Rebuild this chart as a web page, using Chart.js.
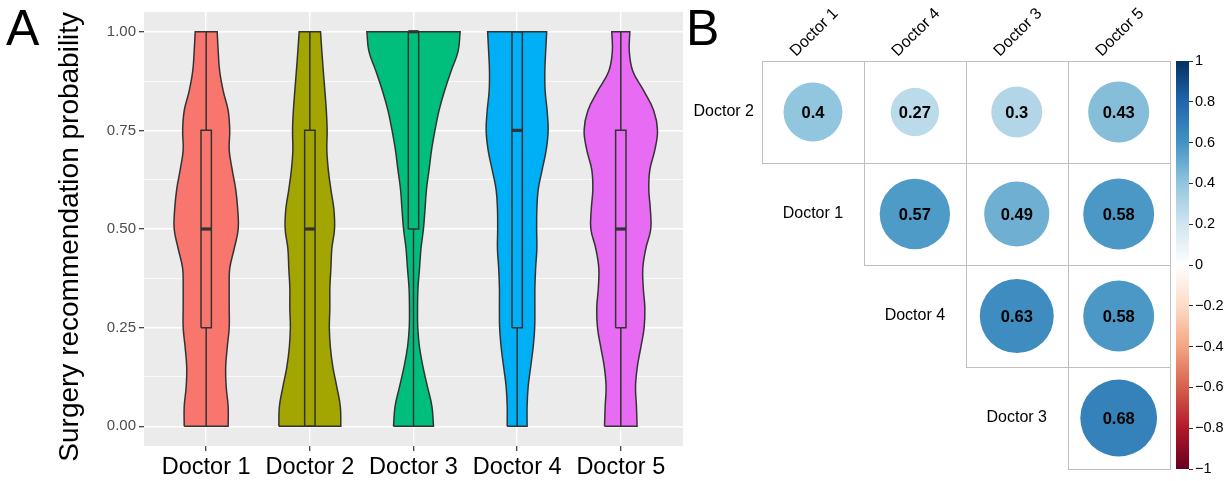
<!DOCTYPE html>
<html>
<head>
<meta charset="utf-8">
<script src="https://cdn.jsdelivr.net/npm/chart.js@4.4.1/dist/chart.umd.min.js"></script>
<style>
  html, body { margin: 0; padding: 0; background: #ffffff; }
  #wrap { position: relative; width: 1228px; height: 481px; overflow: hidden;
          font-family: "Liberation Sans", Arial, Helvetica, sans-serif; }
  #paneA { position: absolute; left: 0; top: 0; width: 690px; height: 481px; }
  #paneB { position: absolute; left: 690px; top: 0; width: 538px; height: 481px; }
  .tag { position: absolute; font-size: 50px; line-height: 50px; color: #000; }
</style>
</head>
<body>
<div id="wrap">
  <div id="paneA"><canvas id="violin" width="690" height="481"></canvas></div>
  <div id="paneB"><canvas id="corr" width="538" height="481"></canvas></div>
  <div class="tag" style="left:6px;top:3px">A</div>
  <div class="tag" style="left:686px;top:3px">B</div>
</div>
<script>
const FONT = '"Liberation Sans", Arial, Helvetica, sans-serif';

// ---------- Panel A: violins with boxplots ----------
const doctors = ['Doctor 1', 'Doctor 2', 'Doctor 3', 'Doctor 4', 'Doctor 5'];
const doctorColors = ['#F8766D', '#A3A500', '#00BF7D', '#00B0F6', '#E76BF3'];

// probability levels at which the violin half-widths are given
const levels = [0, 0.05, 0.1, 0.15, 0.2, 0.25, 0.3, 0.35, 0.4, 0.45, 0.5,
                0.55, 0.6, 0.65, 0.7, 0.75, 0.8, 0.85, 0.9, 0.95, 1];

// violin half-widths (in category units) at each level
const halfWidthDoctor1 = [0.212, 0.212, 0.193, 0.188, 0.203, 0.222, 0.222, 0.222, 0.227, 0.270, 0.309,
                          0.304, 0.285, 0.251, 0.222, 0.227, 0.212, 0.164, 0.130, 0.116, 0.106];
const halfWidthDoctor2 = [0.299, 0.294, 0.260, 0.222, 0.198, 0.188, 0.193, 0.193, 0.203, 0.212, 0.238,
                          0.232, 0.203, 0.178, 0.164, 0.167, 0.159, 0.145, 0.130, 0.116, 0.103];
const halfWidthDoctor3 = [0.193, 0.178, 0.135, 0.092, 0.058, 0.041, 0.039, 0.043, 0.058, 0.072, 0.096,
                          0.111, 0.125, 0.150, 0.174, 0.207, 0.246, 0.299, 0.362, 0.430, 0.450];
const halfWidthDoctor4 = [0.096, 0.096, 0.106, 0.130, 0.154, 0.169, 0.171, 0.171, 0.178, 0.190, 0.188,
                          0.190, 0.203, 0.241, 0.280, 0.299, 0.289, 0.270, 0.267, 0.275, 0.285];
const halfWidthDoctor5 = [0.157, 0.151, 0.142, 0.159, 0.193, 0.225, 0.232, 0.217, 0.212, 0.241, 0.289,
                          0.285, 0.270, 0.280, 0.328, 0.354, 0.318, 0.222, 0.116, 0.082, 0.087];
const halfWidths = [halfWidthDoctor1, halfWidthDoctor2, halfWidthDoctor3, halfWidthDoctor4, halfWidthDoctor5];

// boxplot summaries
const whiskerLow  = [0, 0, 0, 0, 0];
const boxLow      = [0.25, 0, 0.5, 0.25, 0.25];
const boxMedian   = [0.5, 0.5, 1, 0.75, 0.5];
const boxHigh     = [0.75, 0.75, 1, 1, 0.75];
const whiskerHigh = [1, 1, 1, 1, 1];

const yMajorTicks = [0, 0.25, 0.5, 0.75, 1];
const yMajorLabels = ['0.00', '0.25', '0.50', '0.75', '1.00'];
const yMinorTicks = [0.125, 0.375, 0.625, 0.875];

const BOX_HALF = 0.05;
const INK = '#333333';

// closed outline: left side upward, across the top, right side downward, back across the bottom
function violinOutline(pos, w) {
  const n = levels.length;
  const pts = [];
  for (let k = 0; k < n; k++) pts.push({ x: pos - w[k], y: levels[k] });
  pts.push({ x: pos - w[n - 1], y: levels[n - 1] });
  pts.push({ x: pos + w[n - 1], y: levels[n - 1] });
  pts.push({ x: pos + w[n - 1], y: levels[n - 1] });
  for (let k = n - 2; k >= 0; k--) pts.push({ x: pos + w[k], y: levels[k] });
  pts.push({ x: pos + w[0], y: levels[0] });
  pts.push({ x: pos - w[0], y: levels[0] });
  return pts;
}

const violinSets = [];
doctors.forEach((name, i) => {
  const pos = i + 1;
  violinSets.push({
    label: name + ' violin',
    data: violinOutline(pos, halfWidths[i]),
    fill: 'shape',
    backgroundColor: doctorColors[i],
    borderColor: INK,
    borderWidth: 1.5,
    tension: 0.4,
    pointRadius: 0,
    order: 3
  });
  violinSets.push({
    label: name + ' box',
    data: [
      { x: pos - BOX_HALF, y: boxLow[i] }, { x: pos + BOX_HALF, y: boxLow[i] },
      { x: pos + BOX_HALF, y: boxHigh[i] }, { x: pos - BOX_HALF, y: boxHigh[i] },
      { x: pos - BOX_HALF, y: boxLow[i] }
    ],
    fill: false, borderColor: INK, borderWidth: 1.5, tension: 0, pointRadius: 0,
    borderJoinStyle: 'miter', order: 2
  });
  violinSets.push({
    label: name + ' whiskers',
    data: [
      { x: pos, y: whiskerLow[i] }, { x: pos, y: boxLow[i] }, { x: pos, y: null },
      { x: pos, y: boxHigh[i] }, { x: pos, y: whiskerHigh[i] }
    ],
    fill: false, borderColor: INK, borderWidth: 1.5, tension: 0, pointRadius: 0,
    spanGaps: false, order: 2
  });
  violinSets.push({
    label: name + ' median',
    data: [{ x: pos - BOX_HALF, y: boxMedian[i] }, { x: pos + BOX_HALF, y: boxMedian[i] }],
    fill: false, borderColor: INK, borderWidth: 3.2, tension: 0, pointRadius: 0,
    borderCapStyle: 'butt', order: 1
  });
});

const panelBackground = {
  id: 'panelBackground',
  beforeDraw(chart) {
    const { ctx, chartArea: a } = chart;
    ctx.save();
    ctx.fillStyle = '#EBEBEB';
    ctx.fillRect(a.left, a.top, a.right - a.left, a.bottom - a.top);
    ctx.restore();
  }
};

const isMajorY = v => yMajorTicks.some(t => Math.abs(t - v) < 1e-9);

new Chart(document.getElementById('violin'), {
  type: 'line',
  data: { datasets: violinSets },
  plugins: [panelBackground],
  options: {
    responsive: false,
    animation: false,
    events: [],
    layout: { padding: { top: 6, right: 7, left: 0, bottom: 0 } },
    plugins: { legend: { display: false }, tooltip: { enabled: false } },
    scales: {
      x: {
        type: 'linear', min: 0.4, max: 5.6,
        afterBuildTicks: s => { s.ticks = doctors.map((d, i) => ({ value: i + 1 })); },
        afterFit: s => { s.height = 35; },
        ticks: {
          autoSkip: false, maxRotation: 0, padding: 2,
          color: '#000000', font: { family: FONT, size: 23.5 },
          callback: v => doctors[Math.round(v) - 1]
        },
        grid: { color: '#FFFFFF', lineWidth: 1.4, tickColor: INK, tickLength: 5, tickWidth: 1.2 },
        border: { display: false }
      },
      y: {
        type: 'linear', min: -0.05, max: 1.05,
        afterBuildTicks: s => {
          s.ticks = yMajorTicks.concat(yMinorTicks).sort((a, b) => a - b).map(v => ({ value: v }));
        },
        afterFit: s => { s.width = 144; },
        ticks: {
          autoSkip: false, padding: 3,
          color: '#4D4D4D', font: { family: FONT, size: 15 },
          callback: v => {
            const k = yMajorTicks.findIndex(t => Math.abs(t - v) < 1e-9);
            return k >= 0 ? yMajorLabels[k] : '';
          }
        },
        grid: {
          color: '#FFFFFF',
          lineWidth: c => (c.tick && isMajorY(c.tick.value)) ? 1.4 : 0.7,
          tickColor: c => (c.tick && isMajorY(c.tick.value)) ? INK : 'rgba(0,0,0,0)',
          tickLength: 5, tickWidth: 1.2
        },
        border: { display: false },
        title: {
          display: true, text: 'Surgery recommendation probability\u00A0\u00A0',
          color: '#000000', font: { family: FONT, size: 28 },
          padding: { top: 53, bottom: 0 }
        }
      }
    }
  }
});

// ---------- Panel B: correlation matrix ----------
const corrCols = ['Doctor 1', 'Doctor 4', 'Doctor 3', 'Doctor 5'];
const corrRows = ['Doctor 2', 'Doctor 1', 'Doctor 4', 'Doctor 3'];
const corrRow1 = [0.40, 0.27, 0.30, 0.43];
const corrRow2 = [null, 0.57, 0.49, 0.58];
const corrRow3 = [null, null, 0.63, 0.58];
const corrRow4 = [null, null, null, 0.68];
const corrValues = [corrRow1, corrRow2, corrRow3, corrRow4];

const colorbarTicks = [-1, -0.8, -0.6, -0.4, -0.2, 0, 0.2, 0.4, 0.6, 0.8, 1];
const colorbarLabels = ['\u22121', '\u22120.8', '\u22120.6', '\u22120.4', '\u22120.2', '0', '0.2', '0.4', '0.6', '0.8', '1'];
const rdbu = ['#67001F', '#B2182B', '#D6604D', '#F4A582', '#FDDBC7', '#FFFFFF',
              '#D1E5F0', '#92C5DE', '#4393C3', '#2166AC', '#053061'];

function hexRgb(h) { return [1, 3, 5].map(i => parseInt(h.slice(i, i + 2), 16)); }
function corrColor(v) {
  const t = (Math.max(-1, Math.min(1, v)) + 1) / 2 * (rdbu.length - 1);
  const k = Math.min(rdbu.length - 2, Math.floor(t));
  const f = t - k;
  const a = hexRgb(rdbu[k]), b = hexRgb(rdbu[k + 1]);
  const c = a.map((x, j) => Math.round(x + (b[j] - x) * f));
  return 'rgb(' + c.join(',') + ')';
}

const corrPoints = [];
corrValues.forEach((row, r) => row.forEach((v, c) => {
  if (v !== null) corrPoints.push({ x: c, y: r, v: v });
}));

// circle radius grows with the square root of |r|, relative to the cell size
function circleRadius(ctx) {
  const p = ctx.raw;
  if (!p || typeof p.v !== 'number') return 0;
  const xs = ctx.chart.scales.x;
  const cell = Math.abs(xs.getPixelForValue(1) - xs.getPixelForValue(0));
  return 0.457 * cell * Math.sqrt(Math.abs(p.v));
}

const corrDecor = {
  id: 'corrDecor',
  beforeDatasetsDraw(chart) {
    const { ctx, chartArea: a } = chart;
    const xs = chart.scales.x, ys = chart.scales.y, cb = chart.scales.cb;
    ctx.save();
    // cell borders
    ctx.strokeStyle = '#BEBEBE';
    ctx.lineWidth = 1;
    corrValues.forEach((row, r) => row.forEach((v, c) => {
      if (v === null) return;
      const x0 = Math.round(xs.getPixelForValue(c - 0.5)) + 0.5;
      const x1 = Math.round(xs.getPixelForValue(c + 0.5)) + 0.5;
      const y0 = Math.round(ys.getPixelForValue(r - 0.5)) + 0.5;
      const y1 = Math.round(ys.getPixelForValue(r + 0.5)) + 0.5;
      ctx.strokeRect(x0, y0, x1 - x0, y1 - y0);
    }));
    // colour bar
    const yTop = cb.getPixelForValue(1), yBot = cb.getPixelForValue(-1);
    const g = ctx.createLinearGradient(0, yBot, 0, yTop);
    rdbu.forEach((col, k) => g.addColorStop(k / (rdbu.length - 1), col));
    ctx.fillStyle = g;
    ctx.fillRect(a.right - 13, yTop, 13, yBot - yTop);
    // row labels
    ctx.fillStyle = '#000';
    ctx.font = '16px ' + FONT;
    ctx.textBaseline = 'middle';
    corrRows.forEach((name, r) => {
      const y = ys.getPixelForValue(r);
      if (r === 0) {
        ctx.textAlign = 'right';
        ctx.fillText(name, xs.getPixelForValue(-0.5) - 8, y);
      } else {
        ctx.textAlign = 'center';
        ctx.fillText(name, xs.getPixelForValue(r - 1), y);
      }
    });
    // column labels, rotated
    ctx.textAlign = 'left';
    ctx.textBaseline = 'alphabetic';
    corrCols.forEach((name, c) => {
      ctx.save();
      ctx.translate(xs.getPixelForValue(c) - 17, ys.getPixelForValue(-0.5) - 4);
      ctx.rotate(-Math.PI / 4);
      ctx.fillText(name, 0, 0);
      ctx.restore();
    });
    ctx.restore();
  },
  afterDatasetsDraw(chart) {
    const { ctx } = chart;
    const meta = chart.getDatasetMeta(0);
    ctx.save();
    ctx.fillStyle = '#000';
    ctx.font = 'bold 16.5px ' + FONT;
    ctx.textAlign = 'center';
    ctx.textBaseline = 'middle';
    meta.data.forEach((el, i) => {
      const v = corrPoints[i].v;
      ctx.fillText(String(Math.round(v * 100) / 100), el.x, el.y + 1);
    });
    ctx.restore();
  }
};

new Chart(document.getElementById('corr'), {
  type: 'scatter',
  data: {
    datasets: [{
      data: corrPoints,
      pointStyle: 'circle',
      pointBorderWidth: 0,
      pointBorderColor: 'rgba(0,0,0,0)',
      pointBackgroundColor: c => (c.raw && typeof c.raw.v === 'number') ? corrColor(c.raw.v) : '#ffffff',
      pointRadius: circleRadius,
      clip: false
    }]
  },
  plugins: [corrDecor],
  options: {
    responsive: false,
    animation: false,
    events: [],
    layout: { padding: { left: 72, top: 61, bottom: 12, right: 0 } },
    plugins: { legend: { display: false }, tooltip: { enabled: false } },
    scales: {
      x: { type: 'linear', min: -0.5, max: 3.69, display: false },
      y: { type: 'linear', min: -0.5, max: 3.5, reverse: true, display: false },
      cb: {
        type: 'linear', position: 'right', min: -1, max: 1,
        afterBuildTicks: s => { s.ticks = colorbarTicks.map(v => ({ value: v })); },
        afterFit: s => { s.width = 39; },
        ticks: {
          autoSkip: false, padding: 2, color: '#000', font: { family: FONT, size: 14.5 },
          callback: v => colorbarLabels[colorbarTicks.findIndex(t => Math.abs(t - v) < 1e-9)]
        },
        grid: { drawOnChartArea: false, tickLength: 4, tickColor: INK, tickWidth: 1 },
        border: { display: false }
      }
    }
  }
});
</script>
</body>
</html>
